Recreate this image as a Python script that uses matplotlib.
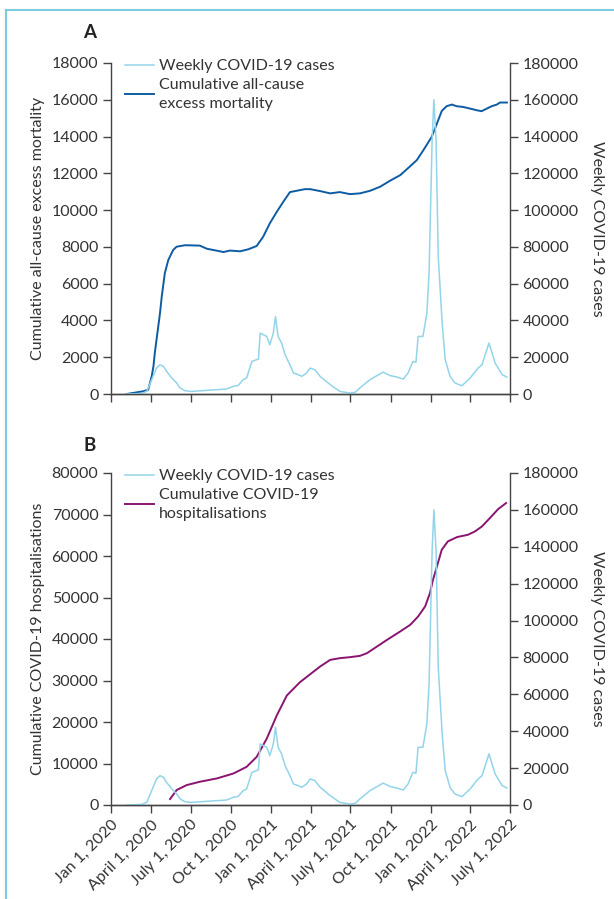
import numpy as np
import matplotlib.pyplot as plt
from matplotlib.lines import Line2D

plt.rcParams['font.family'] = ['Lato', 'DejaVu Sans']
plt.rcParams['font.size'] = 11.5

# Casos semanales de COVID-19 (eje derecho)
fechas_casos = ['2020-02-06', '2020-03-11', '2020-03-23', '2020-04-03', '2020-04-14',
                '2020-04-22', '2020-04-30', '2020-05-07', '2020-05-19', '2020-05-30',
                '2020-06-07', '2020-06-18', '2020-07-03', '2020-08-07', '2020-09-21',
                '2020-10-07', '2020-10-18', '2020-10-29', '2020-11-06', '2020-11-18',
                '2020-12-03', '2020-12-07', '2020-12-22', '2020-12-29', '2021-01-06',
                '2021-01-11', '2021-01-17', '2021-01-25', '2021-02-02', '2021-02-13',
                '2021-02-21', '2021-03-04', '2021-03-12', '2021-03-23', '2021-03-31',
                '2021-04-11', '2021-04-23', '2021-05-16', '2021-06-07', '2021-06-30',
                '2021-07-12', '2021-07-23', '2021-08-15', '2021-09-14', '2021-09-30',
                '2021-10-16', '2021-10-30', '2021-11-10', '2021-11-21', '2021-11-28',
                '2021-12-03', '2021-12-14', '2021-12-23', '2021-12-28', '2022-01-04',
                '2022-01-08', '2022-01-13', '2022-01-18', '2022-01-27', '2022-02-03',
                '2022-02-14', '2022-02-25', '2022-03-13', '2022-04-01', '2022-04-19',
                '2022-04-28', '2022-05-14', '2022-05-28', '2022-06-13', '2022-06-24']
casos = [0, 300, 1500, 7800, 14100,
         15900, 15000, 12300, 8700, 6000,
         3300, 1800, 1400, 2000, 2700,
         4200, 4700, 7800, 8700, 17700,
         19000, 33100, 31300, 26800, 33100,
         42100, 31300, 27700, 21300, 15900,
         11400, 10500, 9600, 11400, 14100,
         13200, 9600, 5100, 1400, 500,
         900, 3300, 7800, 11900, 10000,
         9200, 8100, 11400, 17700, 17200,
         31300, 31300, 44000, 65700, 138000,
         160000, 138000, 74700, 38500, 18600,
         9600, 6000, 4500, 8700, 14100,
         15900, 27700, 16800, 10500, 9200]

# Mortalidad acumulada por todas las causas (panel A)
fechas_mort = ['2020-02-06', '2020-03-15', '2020-03-26', '2020-04-03', '2020-04-07',
               '2020-04-10', '2020-04-14', '2020-04-18', '2020-04-22', '2020-04-26',
               '2020-05-03', '2020-05-11', '2020-05-22', '2020-05-30',
               '2020-06-18', '2020-07-22', '2020-08-07', '2020-08-22', '2020-09-14',
               '2020-09-29', '2020-10-22', '2020-11-10', '2020-11-29', '2020-12-14',
               '2020-12-29', '2021-01-14', '2021-01-29', '2021-02-13', '2021-02-28',
               '2021-03-19', '2021-03-31', '2021-04-23', '2021-05-16', '2021-06-07',
               '2021-06-30', '2021-07-23', '2021-08-15', '2021-09-07', '2021-09-30',
               '2021-10-23', '2021-11-15', '2021-11-30', '2021-12-15', '2022-01-03',
               '2022-01-15', '2022-01-26', '2022-02-06', '2022-02-18', '2022-03-01',
               '2022-03-16', '2022-04-01', '2022-04-16', '2022-04-27', '2022-05-09',
               '2022-05-20', '2022-06-01', '2022-06-08', '2022-06-24']
mortalidad = [0, 150, 230, 960, 1500,
              2200, 2950, 3670, 4400, 5300,
              6570, 7290, 7830, 8010,
              8090, 8070, 7900, 7830, 7720,
              7800, 7760, 7870, 8050, 8560,
              9280, 9910, 10460, 10980, 11050,
              11140, 11140, 11035, 10910, 10980,
              10870, 10910, 11050, 11270, 11600,
              11900, 12390, 12720, 13260, 13980,
              14710, 15390, 15650, 15740, 15650,
              15610, 15520, 15430, 15380, 15520,
              15650, 15740, 15850, 15850]

# Hospitalizaciones acumuladas por COVID-19 (panel B)
fechas_hosp = ['2020-05-15', '2020-05-30', '2020-06-22', '2020-07-22', '2020-08-30',
               '2020-10-07', '2020-11-06', '2020-11-29', '2020-12-22', '2021-01-14',
               '2021-02-06', '2021-03-08', '2021-04-23', '2021-05-16', '2021-06-07',
               '2021-06-30', '2021-07-23', '2021-08-08', '2021-08-31', '2021-09-23',
               '2021-10-23', '2021-11-15', '2021-12-03', '2021-12-19', '2021-12-30',
               '2022-01-06', '2022-01-15', '2022-01-26', '2022-02-09', '2022-03-02',
               '2022-03-27', '2022-04-12', '2022-04-28', '2022-05-16', '2022-06-04',
               '2022-06-22']
hosp = [1440, 3600, 4800, 5600, 6400,
        7600, 9200, 11600, 16000, 21600,
        26400, 29600, 33370, 34970, 35380,
        35620, 35940, 36580, 38190, 39800,
        41810, 43420, 45430, 47840, 51050,
        54270, 57490, 61510, 63520, 64560,
        65120, 65930, 67130, 69140, 71310,
        72760]

etiquetas_x = ['Jan 1, 2020', 'April 1, 2020', 'July 1, 2020', 'Oct 1, 2020',
               'Jan 1, 2021', 'April 1, 2021', 'July 1, 2021', 'Oct 1, 2021',
               'Jan 1, 2022', 'April 1, 2022', 'July 1, 2022']
ticks_x = ['2020-01-01', '2020-04-01', '2020-07-01', '2020-10-01', '2021-01-01',
           '2021-04-01', '2021-07-01', '2021-10-01', '2022-01-01', '2022-04-01',
           '2022-07-01']

azul_claro = '#93d4ea'
azul_oscuro = '#0d5ca3'
morado = '#8a1470'
gris = '#333333'

fig = plt.figure(figsize=(6.14, 8.99), dpi=100)

# Marco azul claro de la figura
fig.add_artist(Line2D([6 / 614, 6 / 614], [0, 1 - 10 / 899], color='#7ccbe0', lw=1.5))
fig.add_artist(Line2D([6 / 614, 1], [1 - 10 / 899, 1 - 10 / 899], color='#7ccbe0', lw=1.5))

t_casos = np.array(fechas_casos, dtype='datetime64[D]')
t_ticks = np.array(ticks_x, dtype='datetime64[D]')


def preparar(ax, ax2, ymax, ystep, etiqueta, mostrar_fechas):
    for a in (ax, ax2):
        a.spines['top'].set_visible(False)
        for s in ('left', 'right', 'bottom'):
            a.spines[s].set_color('#444444')
            a.spines[s].set_linewidth(1.0)
        a.tick_params(direction='out', length=6, width=1.0, colors='#444444',
                      labelcolor=gris, labelsize=11.5, pad=3)
    ax.spines['right'].set_visible(False)
    ax2.spines['left'].set_visible(False)
    ax.set_ylim(0, ymax)
    ax.set_yticks(np.arange(0, ymax + 1, ystep))
    ax2.set_ylim(0, 180000)
    ax2.set_yticks(np.arange(0, 180001, 20000))
    ax.set_xlim(t_ticks[0], t_ticks[-1])
    ax.set_xticks(t_ticks)
    if mostrar_fechas:
        ax.set_xticklabels(etiquetas_x, rotation=45, ha='right', rotation_mode='anchor')
    else:
        ax.set_xticklabels([])
    ax.set_ylabel(etiqueta, color=gris, fontsize=11.5, labelpad=5)
    ax2.set_ylabel('Weekly COVID-19 cases', color=gris, fontsize=11.5,
                   rotation=270, labelpad=18)


def leyenda(ax, color, texto):
    leg = ax.legend(handles=[Line2D([], [], color=azul_claro, lw=1.1),
                             Line2D([], [], color=color, lw=1.4)],
                    labels=['Weekly COVID-19 cases', texto],
                    loc='upper left', bbox_to_anchor=(14 / 399, 1 + 4 / 331), frameon=False,
                    borderpad=0, borderaxespad=0, handlelength=1.8, handletextpad=0.35,
                    labelspacing=0.3, labelcolor=gris, fontsize=11.5)
    for t in leg.get_texts():
        t.set_linespacing(1.45)


# Panel A
axA = fig.add_axes([111 / 614, 1 - 394 / 899, 399 / 614, 331 / 899])
axA2 = axA.twinx()
axA2.plot(t_casos, casos, color=azul_claro, lw=1.1)
axA.plot(np.array(fechas_mort, dtype='datetime64[D]'), mortalidad, color=azul_oscuro, lw=1.4)
preparar(axA, axA2, 18000, 2000, 'Cumulative all-cause excess mortality', False)
leyenda(axA, azul_oscuro, 'Cumulative all-cause\nexcess mortality')
fig.text(90 / 614, 1 - 33 / 899, 'A', fontsize=13.5, fontweight='bold', color='#222222',
         va='center', ha='center')

# Panel B
axB = fig.add_axes([111 / 614, 1 - 805 / 899, 399 / 614, 332 / 899])
axB2 = axB.twinx()
axB2.plot(t_casos, casos, color=azul_claro, lw=1.1)
axB.plot(np.array(fechas_hosp, dtype='datetime64[D]'), hosp, color=morado, lw=1.4)
preparar(axB, axB2, 80000, 10000, 'Cumulative COVID-19 hospitalisations', True)
leyenda(axB, morado, 'Cumulative COVID-19\nhospitalisations')
fig.text(90 / 614, 1 - 445 / 899, 'B', fontsize=13.5, fontweight='bold', color='#222222',
         va='center', ha='center')

fig.savefig('out.png', dpi=100)
